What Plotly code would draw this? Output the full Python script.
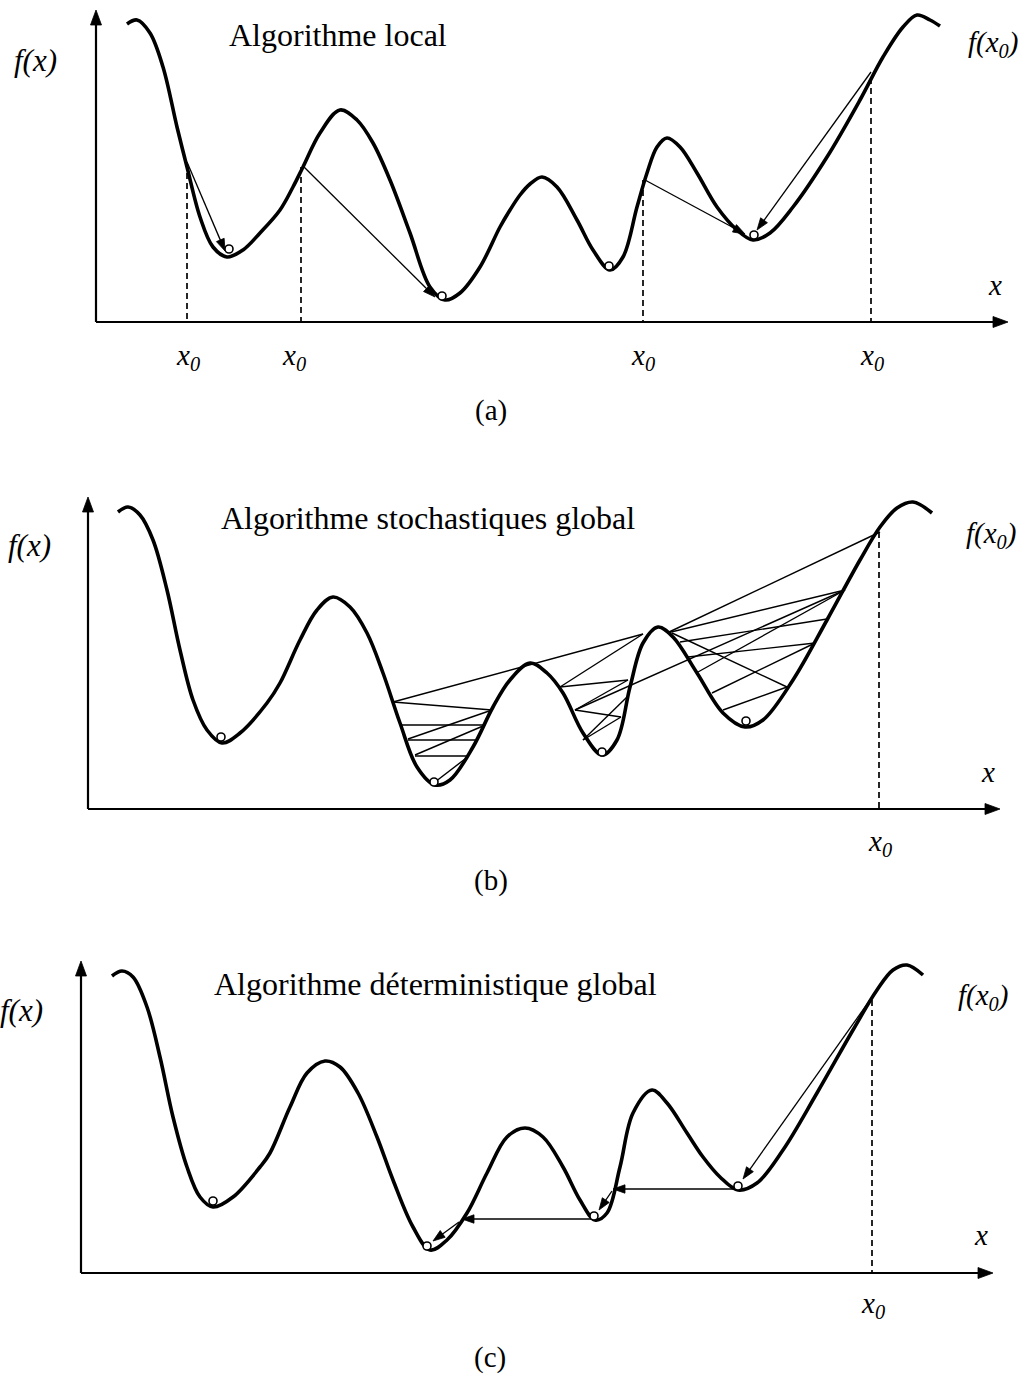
import math
import plotly.graph_objects as go

W, H = 1031, 1374
FONT = "Liberation Serif, Times New Roman, serif"

# ---------------- data (page-pixel coordinates of the diagram) ----------------
# panel (a) : local algorithm
A_CURVE_X = [127, 137, 150, 163, 177, 187, 200, 213, 227, 243, 260, 280, 293, 303, 320, 340, 357, 373, 390,
             410, 430, 445, 460, 480, 500, 510, 520, 530, 542, 557, 577, 593, 610, 623, 637, 647, 657, 667,
             680, 697, 717, 737, 753, 770, 793, 827, 860, 883, 903, 917, 930, 940]
A_CURVE_Y = [24, 20, 33, 67, 127, 167, 217, 247, 257, 250, 233, 210, 187, 167, 133, 110, 120, 143, 180,
             233, 287, 300, 293, 267, 227, 210, 195, 184, 177, 187, 220, 250, 270, 257, 207, 173, 147, 138,
             147, 173, 207, 230, 240, 233, 207, 157, 100, 57, 27, 15, 20, 26]
A_MIN_X = [229, 442, 609, 754]
A_MIN_Y = [249, 296, 266, 235]
A_X0 = [187, 301, 643, 871]
A_X0_TOP = [163, 167, 180, 78]
A_ARROWS = [(187, 162, 225, 251), (303, 166, 435, 297), (645, 180, 745, 234), (871, 72, 757, 230)]

# panel (b) : stochastic global algorithm
B_CURVE_X = [118, 128, 140, 153, 167, 180, 193, 207, 222, 240, 267, 280, 300, 317, 333, 350, 367, 383, 400,
             417, 435, 450, 473, 493, 510, 530, 547, 563, 583, 602, 617, 630, 643, 658, 673, 697, 723, 745,
             763, 793, 827, 860, 880, 897, 913, 932]
B_CURVE_Y = [512, 507, 515, 540, 590, 650, 700, 730, 743, 733, 703, 683, 640, 610, 597, 607, 633, 673, 723,
             767, 785, 780, 747, 707, 680, 663, 673, 693, 733, 755, 740, 687, 643, 627, 637, 673, 713, 727,
             720, 680, 620, 560, 527, 508, 502, 513]
B_MIN_X = [221, 434, 602, 746]
B_MIN_Y = [737, 782, 752, 721]
B_X0 = [879]
B_X0_TOP = [532]
B_SEGMENTS = [(393, 702, 643, 634), (393, 702, 492, 710), (492, 710, 408, 739), (402, 725, 483, 725),
              (483, 726, 415, 755), (408, 740, 475, 740), (415, 756, 468, 756), (465, 759, 435, 782),
              (560, 687, 643, 634), (560, 687, 628, 680), (628, 680, 575, 710), (575, 710, 621, 717),
              (621, 717, 583, 740), (583, 740, 627, 697), (575, 710, 845, 590), (667, 633, 880, 532),
              (667, 633, 845, 590), (680, 642, 827, 619), (688, 657, 815, 643), (672, 633, 787, 687),
              (698, 672, 845, 590), (712, 693, 815, 643), (723, 710, 787, 687)]

# panel (c) : deterministic global algorithm
C_CURVE_X = [112, 122, 133, 147, 160, 173, 187, 200, 213, 233, 260, 270, 290, 307, 325, 340, 358, 377, 393,
             413, 430, 447, 467, 487, 507, 525, 543, 563, 580, 595, 607, 620, 633, 652, 667, 687, 703, 720,
             738, 757, 783, 817, 853, 877, 893, 907, 923]
C_CURVE_Y = [976, 971, 977, 1007, 1057, 1117, 1167, 1197, 1207, 1197, 1167, 1153, 1107, 1073, 1061, 1067,
             1093, 1137, 1180, 1227, 1250, 1240, 1213, 1173, 1137, 1128, 1137, 1167, 1200, 1220, 1213, 1167,
             1113, 1090, 1103, 1133, 1157, 1177, 1190, 1183, 1150, 1093, 1030, 990, 970, 965, 975]
C_MIN_X = [213, 427, 594, 738]
C_MIN_Y = [1201, 1246, 1216, 1186]
C_X0 = [872]
C_X0_TOP = [1000]
C_ARROWS = [(870, 1000, 743, 1179), (737, 1189, 613, 1189), (612, 1191, 599, 1210),
            (595, 1219, 462, 1219), (459, 1222, 433, 1241)]

# axes: (origin x, origin y, x-axis tip x, y-axis tip y)
AXES = [(96, 322, 1008, 10), (88, 809, 1000, 497), (81, 1273, 993, 961)]

# texts
TITLES = [("Algorithme local", 338, 35),
          ("Algorithme stochastiques global", 428, 518),
          ("Algorithme déterministique global", 435, 984)]
FX_POS = [(35, 60), (29, 545), (21, 1010)]
FX0_POS = [(993, 44), (991, 535), (983, 997)]
XLAB_POS = [(995, 285), (988, 772), (981, 1235)]
X0_LAB = [(188, 357), (294, 357), (643, 357), (872, 357), (880, 843), (873, 1305)]
PANEL_LAB = [("(a)", 491, 410), ("(b)", 491, 880), ("(c)", 490, 1357)]

# ---------------- figure ----------------
fig = go.Figure()

for cx, cy in [(A_CURVE_X, A_CURVE_Y), (B_CURVE_X, B_CURVE_Y), (C_CURVE_X, C_CURVE_Y)]:
    fig.add_trace(go.Scatter(x=cx, y=cy, mode="lines",
                             line=dict(color="black", width=3.6, shape="spline", smoothing=1.0),
                             hoverinfo="skip", showlegend=False))

# dashed verticals
dx, dy = [], []
for xs, tops, (ox, oy, _, _) in [(A_X0, A_X0_TOP, AXES[0]), (B_X0, B_X0_TOP, AXES[1]), (C_X0, C_X0_TOP, AXES[2])]:
    for x, t in zip(xs, tops):
        dx += [x, x, None]
        dy += [t, oy, None]
fig.add_trace(go.Scatter(x=dx, y=dy, mode="lines",
                         line=dict(color="black", width=1.7, dash="6px,4px"),
                         hoverinfo="skip", showlegend=False))

# stochastic segments
sx, sy = [], []
for x1, y1, x2, y2 in B_SEGMENTS:
    sx += [x1, x2, None]
    sy += [y1, y2, None]
fig.add_trace(go.Scatter(x=sx, y=sy, mode="lines", line=dict(color="black", width=1.4),
                         hoverinfo="skip", showlegend=False))


# arrows: shaft as a line, head as a filled triangle (1 data unit = 1 px)
def arrow_geom(x1, y1, x2, y2, head_len, head_half):
    d = math.hypot(x2 - x1, y2 - y1)
    ux, uy = (x2 - x1) / d, (y2 - y1) / d
    bx, by = x2 - ux * head_len, y2 - uy * head_len
    nx, ny = -uy, ux
    shaft = ([x1, bx + ux * 1.0, None], [y1, by + uy * 1.0, None])
    head = ([x2, bx + nx * head_half, bx - nx * head_half, x2, None],
            [y2, by + ny * head_half, by - ny * head_half, y2, None])
    return shaft, head


def add_arrows(arrows, width, head_len, head_half):
    shx, shy, hx, hy = [], [], [], []
    for a in arrows:
        (s_x, s_y), (h_x, h_y) = arrow_geom(*a, head_len, head_half)
        shx += s_x
        shy += s_y
        hx += h_x
        hy += h_y
    fig.add_trace(go.Scatter(x=shx, y=shy, mode="lines", line=dict(color="black", width=width),
                             hoverinfo="skip", showlegend=False))
    fig.add_trace(go.Scatter(x=hx, y=hy, mode="lines", fill="toself", fillcolor="black",
                             line=dict(color="black", width=0.8),
                             hoverinfo="skip", showlegend=False))


add_arrows(A_ARROWS + C_ARROWS, 1.3, 12, 4.2)

axis_arrows = []
for ox, oy, xt, yt in AXES:
    axis_arrows.append((ox, oy, xt, oy))
    axis_arrows.append((ox, oy, ox, yt))
add_arrows(axis_arrows, 2.2, 15, 5.5)

# minima markers
for mx, my in [(A_MIN_X, A_MIN_Y), (B_MIN_X, B_MIN_Y), (C_MIN_X, C_MIN_Y)]:
    fig.add_trace(go.Scatter(x=mx, y=my, mode="markers",
                             marker=dict(symbol="circle", size=8, color="white",
                                         line=dict(color="black", width=1.6)),
                             hoverinfo="skip", showlegend=False))

ann = []


def txt(t, x, y, size=28):
    return dict(x=x, y=y, xref="x", yref="y", text=t, showarrow=False,
                font=dict(family=FONT, size=size, color="black"),
                xanchor="center", yanchor="middle")


for t, x, y in TITLES:
    ann.append(txt(t, x, y, 32))
for x, y in FX_POS:
    ann.append(txt("<i>f(x)</i>", x, y, 31))
for x, y in FX0_POS:
    ann.append(txt("<i>f(x<sub>0</sub>)</i>", x, y, 29))
for x, y in XLAB_POS:
    ann.append(txt("<i>x</i>", x, y, 29))
for x, y in X0_LAB:
    ann.append(txt("<i>x<sub>0</sub></i>", x, y, 29))
for t, x, y in PANEL_LAB:
    ann.append(txt(t, x, y, 29))

fig.update_layout(
    width=W, height=H,
    margin=dict(l=0, r=0, t=0, b=0),
    paper_bgcolor="white", plot_bgcolor="white",
    xaxis=dict(range=[0, W], visible=False, fixedrange=True),
    yaxis=dict(range=[H, 0], visible=False, fixedrange=True),
    annotations=ann,
    showlegend=False,
)

fig.write_html("out.html", config={"displayModeBar": False},
               post_script="document.body.style.margin='0px';")
